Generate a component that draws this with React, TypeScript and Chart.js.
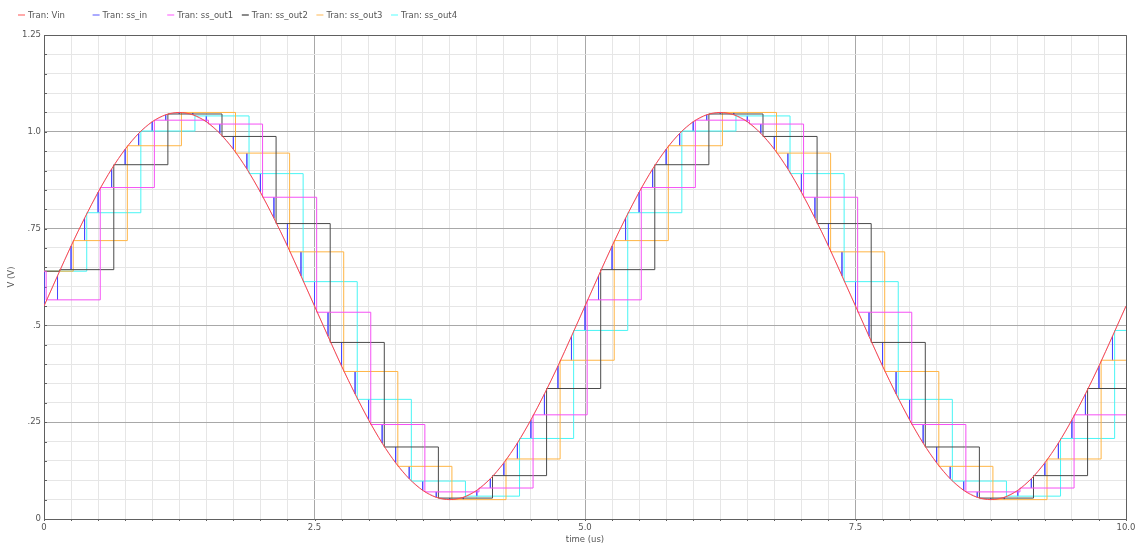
import React, { useEffect, useRef } from "react";
import { Chart, registerables } from "chart.js";

Chart.register(...registerables);

// ---- data -----------------------------------------------------------
// simulation clock (us): one tick every 0.125 us
const clockTimes = [
  0, 0.125, 0.25, 0.375, 0.5, 0.625, 0.75, 0.875, 1, 1.125, 1.25, 1.375, 1.5, 1.625, 1.75, 1.875,
  2, 2.125, 2.25, 2.375, 2.5, 2.625, 2.75, 2.875, 3, 3.125, 3.25, 3.375, 3.5, 3.625, 3.75, 3.875,
  4, 4.125, 4.25, 4.375, 4.5, 4.625, 4.75, 4.875, 5, 5.125, 5.25, 5.375, 5.5, 5.625, 5.75, 5.875,
  6, 6.125, 6.25, 6.375, 6.5, 6.625, 6.75, 6.875, 7, 7.125, 7.25, 7.375, 7.5, 7.625, 7.75, 7.875,
  8, 8.125, 8.25, 8.375, 8.5, 8.625, 8.75, 8.875, 9, 9.125, 9.25, 9.375, 9.5, 9.625, 9.75, 9.875, 10,
];

// Vin (V) at each clock time
const vinValues = [
  0.55, 0.628, 0.705, 0.777, 0.844, 0.904, 0.955, 0.996, 1.026, 1.044, 1.05, 1.044, 1.026, 0.996, 0.955, 0.904,
  0.844, 0.777, 0.705, 0.628, 0.55, 0.472, 0.395, 0.323, 0.256, 0.196, 0.145, 0.104, 0.074, 0.056, 0.05, 0.056,
  0.074, 0.104, 0.145, 0.196, 0.256, 0.323, 0.395, 0.472,
  0.55, 0.628, 0.705, 0.777, 0.844, 0.904, 0.955, 0.996, 1.026, 1.044, 1.05, 1.044, 1.026, 0.996, 0.955, 0.904,
  0.844, 0.777, 0.705, 0.628, 0.55, 0.472, 0.395, 0.323, 0.256, 0.196, 0.145, 0.104, 0.074, 0.056, 0.05, 0.056,
  0.074, 0.104, 0.145, 0.196, 0.256, 0.323, 0.395, 0.472, 0.55,
];

// held values of the four sample/hold outputs (one new sample every 0.5 us each)
const ssOut1Values = [0.566, 0.856, 1.03, 1.02, 0.831, 0.534, 0.244, 0.07, 0.08, 0.269,
  0.566, 0.856, 1.03, 1.02, 0.831, 0.534, 0.244, 0.07, 0.08, 0.269];
const ssOut2Values = [0.644, 0.915, 1.046, 0.988, 0.763, 0.456, 0.186, 0.054, 0.112, 0.337,
  0.644, 0.915, 1.046, 0.988, 0.763, 0.456, 0.186, 0.054, 0.112, 0.337];
const ssOut3Values = [0.719, 0.964, 1.05, 0.945, 0.69, 0.381, 0.136, 0.05, 0.155, 0.41,
  0.719, 0.964, 1.05, 0.945, 0.69, 0.381, 0.136, 0.05, 0.155, 0.41];
const ssOut4Values = [0.791, 1.002, 1.041, 0.892, 0.613, 0.309, 0.098, 0.059, 0.208, 0.487,
  0.791, 1.002, 1.041, 0.892, 0.613, 0.309, 0.098, 0.059, 0.208, 0.487];

const initialHold = 0.64; // value held by all outputs before their first sample
const sampleDelay = 0.02; // us after the clock tick at which an output latches

const seriesNames = ["Tran: Vin", "Tran: ss_in", "Tran: ss_out1", "Tran: ss_out2", "Tran: ss_out3", "Tran: ss_out4"];
const lineColors = ["#ff4a4a", "#4848ff", "#f550f5", "#4a4a4a", "#ffb545", "#48f5f5"];
const legendColors = ["#ffaaaa", "#aaaaff", "#ffaaff", "#8a8a8a", "#ffdcaa", "#aaffff"];

const yTickLabels = ["0", ".25", ".5", ".75", "1.0", "1.25"];
const xTickLabels = ["0", "2.5", "5.0", "7.5", "10.0"];
const yTitle = "V (V)";
const xTitle = "time (us)";

const FONT = "'DejaVu Sans', 'Liberation Sans', sans-serif";
const TEXT_COLOR = "#555555";

// ---- helpers ------------------------------------------------------------
const outputs = [ssOut1Values, ssOut2Values, ssOut3Values, ssOut4Values];

function heldSequence(): number[] {
  const seq: number[] = [];
  for (let j = 0; j < ssOut1Values.length; j++) {
    for (let m = 0; m < outputs.length; m++) seq.push(outputs[m][j]);
  }
  return seq;
}

function vinPoints() {
  return clockTimes.map((t, k) => ({ x: t, y: vinValues[k] }));
}

// ss_in follows Vin, and at every clock tick it is briefly pulled to the last held value
function ssInPoints() {
  const held = heldSequence();
  const pts: { x: number; y: number }[] = [];
  for (let k = 0; k < clockTimes.length; k++) {
    pts.push({ x: clockTimes[k], y: vinValues[k] });
    if (k < held.length) {
      const prev = k === 0 ? initialHold : held[k - 1];
      pts.push({ x: clockTimes[k], y: prev });
      pts.push({ x: clockTimes[k], y: vinValues[k] });
    }
  }
  return pts;
}

function holdPoints(values: number[], phase: number) {
  const pts: { x: number; y: number }[] = [{ x: clockTimes[0], y: initialHold }];
  values.forEach((v, j) => {
    pts.push({ x: clockTimes[4 * j + phase] + sampleDelay, y: v });
  });
  pts.push({ x: clockTimes[clockTimes.length - 1], y: values[values.length - 1] });
  return pts;
}

const isMultiple = (v: number, step: number) => Math.abs(v / step - Math.round(v / step)) < 1e-6;

const decorPlugin = {
  id: "decor",
  beforeDatasetsDraw(chart: any) {
    const { ctx, chartArea: a, scales } = chart;
    ctx.save();
    ctx.strokeStyle = "#606060";
    ctx.lineWidth = 1;
    scales.y.ticks.forEach((t: any) => {
      const y = Math.round(scales.y.getPixelForValue(t.value)) + 0.5;
      ctx.beginPath();
      ctx.moveTo(a.left, y);
      ctx.lineTo(a.left + 3, y);
      ctx.stroke();
    });
    scales.x.ticks.forEach((t: any) => {
      const x = Math.round(scales.x.getPixelForValue(t.value)) + 0.5;
      ctx.beginPath();
      ctx.moveTo(x, a.bottom);
      ctx.lineTo(x, a.bottom + 2);
      ctx.stroke();
    });
    ctx.beginPath();
    ctx.moveTo(Math.round(a.left) + 0.5, Math.round(a.top) + 0.5);
    ctx.lineTo(Math.round(a.right) + 0.5, Math.round(a.top) + 0.5);
    ctx.lineTo(Math.round(a.right) + 0.5, Math.round(a.bottom) + 0.5);
    ctx.stroke();
    ctx.restore();
  },
  afterDraw(chart: any) {
    const { ctx, chartArea: a } = chart;
    ctx.save();
    ctx.font = `8.5px ${FONT}`;
    ctx.fillStyle = TEXT_COLOR;
    ctx.textBaseline = "middle";
    seriesNames.forEach((name, i) => {
      const x0 = 18 + i * 74.6;
      ctx.strokeStyle = legendColors[i];
      ctx.lineWidth = 2;
      ctx.beginPath();
      ctx.moveTo(x0, 15);
      ctx.lineTo(x0 + 7, 15);
      ctx.stroke();
      ctx.textAlign = "left";
      ctx.fillText(name, x0 + 10, 15.5);
    });
    ctx.textAlign = "center";
    ctx.fillText(xTitle, (a.left + a.right) / 2, 540);
    ctx.translate(12, (a.top + a.bottom) / 2);
    ctx.rotate(-Math.PI / 2);
    ctx.fillText(yTitle, 0, 0);
    ctx.restore();
  },
};

export default function App() {
  const canvasRef = useRef<HTMLCanvasElement | null>(null);

  useEffect(() => {
    if (!canvasRef.current) return;
    const series = [vinPoints(), ssInPoints(), ...outputs.map((v, m) => holdPoints(v, m))];
    const datasets = series.map((pts, i) => ({
      label: seriesNames[i],
      data: pts,
      borderColor: lineColors[i],
      backgroundColor: lineColors[i],
      borderWidth: 1,
      pointRadius: 0,
      fill: false,
      stepped: i >= 2 ? ("before" as const) : false,
      cubicInterpolationMode: i === 0 ? ("monotone" as const) : ("default" as const),
      order: i === 0 ? 0 : i === 1 ? 6 : i,
      segment:
        i === 1
          ? {
              borderColor: (c: any) =>
                Math.abs(c.p0.parsed.x - c.p1.parsed.x) < 1e-9 ? lineColors[1] : "rgba(72,72,255,0.25)",
            }
          : undefined,
    }));

    const chart = new Chart(canvasRef.current, {
      type: "line",
      data: { datasets },
      options: {
        animation: false,
        responsive: false,
        devicePixelRatio: 1,
        events: [],
        layout: { padding: { top: 35, right: 17, left: 0, bottom: 0 } },
        plugins: { legend: { display: false }, tooltip: { enabled: false } },
        scales: {
          x: {
            type: "linear",
            min: 0,
            max: 10,
            afterFit: (s: any) => {
              s.height = 27;
            },
            ticks: {
              stepSize: 0.25,
              autoSkip: false,
              maxRotation: 0,
              minRotation: 0,
              padding: 4,
              color: TEXT_COLOR,
              font: { family: FONT, size: 8.5 },
              callback: (v: any) => (isMultiple(Number(v), 2.5) ? xTickLabels[Math.round(Number(v) / 2.5)] : ""),
            },
            grid: {
              drawTicks: false,
              lineWidth: 1,
              color: (c: any) => (c.tick && isMultiple(c.tick.value, 2.5) ? "#a8a8a8" : "#e6e6e6"),
            },
            border: { display: true, color: "#606060", width: 1 },
          },
          y: {
            type: "linear",
            min: 0,
            max: 1.25,
            afterFit: (s: any) => {
              s.width = 44;
            },
            ticks: {
              stepSize: 0.05,
              autoSkip: false,
              padding: 3,
              color: TEXT_COLOR,
              font: { family: FONT, size: 8.5 },
              callback: (v: any) => (isMultiple(Number(v), 0.25) ? yTickLabels[Math.round(Number(v) / 0.25)] : ""),
            },
            grid: {
              drawTicks: false,
              lineWidth: 1,
              color: (c: any) => (c.tick && isMultiple(c.tick.value, 0.25) ? "#a8a8a8" : "#e6e6e6"),
            },
            border: { display: true, color: "#606060", width: 1 },
          },
        },
      },
      plugins: [decorPlugin],
    });
    return () => chart.destroy();
  }, []);

  return (
    <div style={{ position: "fixed", left: 0, top: 0, width: 1143, height: 546, background: "#ffffff" }}>
      <canvas ref={canvasRef} width={1143} height={546} style={{ display: "block" }} />
    </div>
  );
}
